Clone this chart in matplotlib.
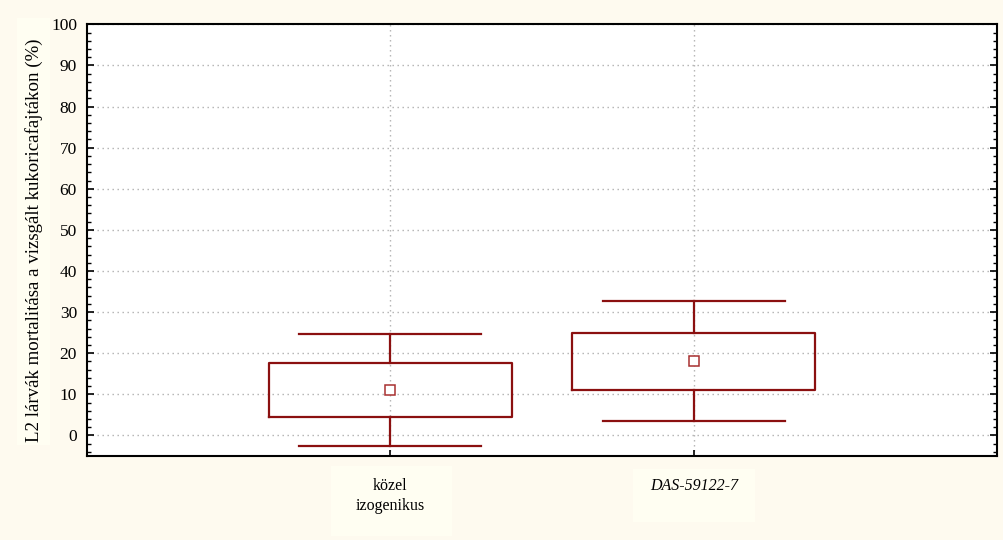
import matplotlib
matplotlib.use("Agg")
import matplotlib.pyplot as plt
from matplotlib.patches import Rectangle
from matplotlib.ticker import MultipleLocator

# Mortality of L2 larvae on the maize varieties tested
categories = ["közel\nizogenikus", "DAS-59122-7"]
centre_values = [11.0, 18.2]
box_low = [4.5, 11.0]
box_high = [17.6, 25.0]
whisker_low = [-2.6, 3.4]
whisker_high = [24.7, 32.6]
y_label = "L2 lárvák mortalitása a vizsgált kukoricafajtákon (%)"

box_colour = "#8B1010"
page_colour = "#FEFAEF"
label_colour = "#FFFEF2"

plt.rcParams["font.family"] = ["Liberation Serif", "DejaVu Serif"]

fig = plt.figure(figsize=(10.04, 5.40), dpi=100, facecolor=page_colour)

# lighter panels behind the axis title and category labels
for (x0, y0, w, h) in [(17, 18, 33, 427), (331, 466, 121, 70), (633, 469, 122, 53)]:
    fig.patches.append(Rectangle((x0 / 1004, 1 - (y0 + h) / 540), w / 1004, h / 540,
                                 transform=fig.transFigure, facecolor=label_colour,
                                 edgecolor="none", zorder=-1))

ax = fig.add_axes([86.7 / 1004, 1 - 456 / 540, (997.3 - 86.7) / 1004, (456 - 24.3) / 540])
ax.set_facecolor("white")

stats = []
for i, name in enumerate(categories):
    stats.append(dict(label=name, med=centre_values[i], mean=centre_values[i],
                      q1=box_low[i], q3=box_high[i],
                      whislo=whisker_low[i], whishi=whisker_high[i], fliers=[]))

line_kw = dict(color=box_colour, linewidth=1.6)
ax.bxp(stats, positions=[1, 2], widths=0.8, capwidths=0.6,
       showmeans=True, showfliers=False,
       boxprops=line_kw, whiskerprops=line_kw, capprops=line_kw,
       medianprops=dict(linestyle="none"),
       meanprops=dict(marker="s", markersize=6.5, markerfacecolor="white",
                      markeredgecolor="#A83030", markeredgewidth=1.1),
       zorder=3)

ax.set_xlim(0, 3)
ax.set_ylim(-5, 100)
ax.set_xticks([1, 2])
ax.set_xticklabels(categories, fontsize=11.5, linespacing=1.3)
ax.get_xticklabels()[1].set_fontstyle("italic")
ax.yaxis.set_major_locator(MultipleLocator(10))
ax.yaxis.set_minor_locator(MultipleLocator(2))
ax.tick_params(axis="y", which="major", direction="in", length=5, width=1.2,
               labelsize=12.5, pad=7, right=True)
ax.tick_params(axis="y", which="minor", direction="in", length=3, width=1.0, right=True)
ax.tick_params(axis="x", which="major", direction="in", length=4, width=1.2,
               pad=16, top=False)

ax.grid(True, which="major", color="#B0B0B0", linewidth=1.0,
        linestyle=(0, (1, 2.6)), zorder=1)
ax.set_axisbelow(True)
for sp in ax.spines.values():
    sp.set_linewidth(1.5)
    sp.set_color("black")

ax.set_ylabel(y_label, fontsize=13.6, labelpad=6)

fig.savefig("out.png", dpi=100, facecolor=page_colour)
